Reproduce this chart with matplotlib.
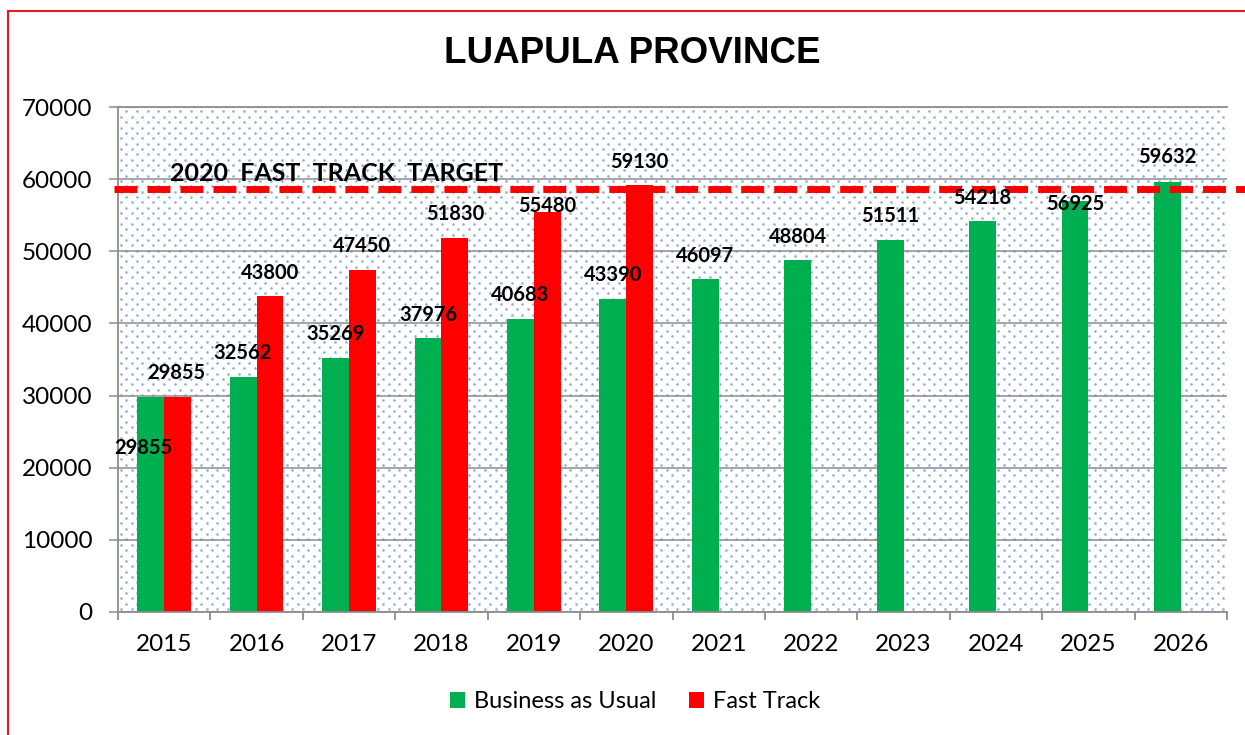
import matplotlib
matplotlib.use("Agg")
import matplotlib.pyplot as plt
from matplotlib.lines import Line2D
from matplotlib.patches import Patch
import numpy as np

plt.rcParams["font.family"] = ["Lato", "DejaVu Sans"]

# data
years = ["2015", "2016", "2017", "2018", "2019", "2020",
         "2021", "2022", "2023", "2024", "2025", "2026"]
bau = [29855, 32562, 35269, 37976, 40683, 43390,
       46097, 48804, 51511, 54218, 56925, 59632]
fast_track = [29855, 43800, 47450, 51830, 55480, 59130]
target_value = 58650
target_label = "2020  FAST  TRACK  TARGET"

GREEN = "#00B050"
RED = "#FF0000"
GRID = "#8C8C8C"

# label offsets in pixels (dx, dy) from bar top, Excel placed some by hand
bau_off = [(-7, -51), (-1, 24), (0, 24), (0, 23), (0, 24), (0, 24),
           (0, 23), (0, 23), (0, 24), (0, 23), (0, -3), (0, 25)]
ft_off = [(-1, 24), (0, 23), (0, 24), (0, 24), (0, 6), (0, 23)]

fig = plt.figure(figsize=(12.45, 7.35), dpi=100)
fig.patch.set_facecolor("white")
ax = fig.add_axes([118 / 1245, 123 / 735, 1109 / 1245, 505 / 735])

# dotted background (staggered grid of small blue dots)
W, H = 1109.0, 505.0
pts = []
for r, yy in enumerate(np.arange(3, H, 5.35)):
    x0 = 3 if r % 2 == 0 else 3 + 5.35
    for xx in np.arange(x0, W, 10.7):
        pts.append((xx / W, yy / H))
pts = np.array(pts)
ax.scatter(pts[:, 0], pts[:, 1], s=3.6, color="#4F86D0", alpha=0.65,
           linewidths=0, transform=ax.transAxes, zorder=0.5)

x = np.arange(len(years))
bw = 0.29
b1 = ax.bar(x - bw / 2, bau, bw, color=GREEN, zorder=2, label="Business as Usual")
b2 = ax.bar(x[:len(fast_track)] + bw / 2, fast_track, bw, color=RED, zorder=2,
            label="Fast Track")

for bar, v, (dx, dy) in zip(b1, bau, bau_off):
    ax.annotate(f"{v}", (bar.get_x() + bar.get_width() / 2, v),
                xytext=(dx, dy), textcoords="offset pixels",
                ha="center", va="center", fontsize=14.5, fontweight="bold",
                color="black", zorder=5)
for bar, v, (dx, dy) in zip(b2, fast_track, ft_off):
    ax.annotate(f"{v}", (bar.get_x() + bar.get_width() / 2, v),
                xytext=(dx, dy), textcoords="offset pixels",
                ha="center", va="center", fontsize=14.5, fontweight="bold",
                color="black", zorder=5)

# target line, runs past the plot to the right edge
ax.axhline(target_value, xmin=-0.004, xmax=1.02, color=RED, lw=5,
           dashes=(3.3, 1.45), clip_on=False, zorder=4)
ax.text(0.047, 0.868, target_label, transform=ax.transAxes,
        fontsize=18, fontweight="bold", ha="left", va="center", zorder=6)

ax.set_xlim(-0.5, len(years) - 0.5)
ax.set_ylim(0, 70000)
ax.set_yticks(np.arange(0, 70001, 10000))
ax.set_yticklabels([f"{v}" for v in range(0, 70001, 10000)], fontsize=17.5)
ax.yaxis.grid(True, color=GRID, lw=1.1, zorder=1)
ax.set_axisbelow(True)

ax.set_xticks(np.arange(-0.5, len(years), 1.0))
ax.set_xticklabels([])
ax.set_xticks(x, minor=True)
ax.set_xticklabels(years, minor=True, fontsize=17.5)
ax.tick_params(axis="x", which="major", length=6, width=1.3, color=GRID,
               direction="out")
ax.tick_params(axis="x", which="minor", length=0, pad=16)
ax.tick_params(axis="y", length=6.5, width=1.1, color=GRID, pad=12)

for s in ["right"]:
    ax.spines[s].set_visible(False)
for s in ["left", "bottom", "top"]:
    ax.spines[s].set_color(GRID)
    ax.spines[s].set_linewidth(1.3)

fig.text(632 / 1245, 1 - 53.5 / 735, "LUAPULA PROVINCE",
         family=["Liberation Sans", "DejaVu Sans"], fontsize=26.5,
         fontweight="bold", ha="center", va="center")

handles = [Patch(facecolor=GREEN, label="Business as Usual"),
           Patch(facecolor=RED, label="Fast Track")]
fig.legend(handles=handles, loc="center", bbox_to_anchor=(635 / 1245, 1 - 702 / 735),
           ncol=2, frameon=False, fontsize=17, handlelength=0.65, handleheight=0.65,
           handletextpad=0.35, columnspacing=1.4)

# red frame on the left and top
fig.add_artist(Line2D([8 / 1245, 8 / 1245], [0, 1 - 11 / 735],
                      transform=fig.transFigure, color="#E31B23", lw=1.5))
fig.add_artist(Line2D([8 / 1245, 1], [1 - 11 / 735, 1 - 11 / 735],
                      transform=fig.transFigure, color="#E31B23", lw=1.5))

fig.savefig("out.png", dpi=100, facecolor="white")
